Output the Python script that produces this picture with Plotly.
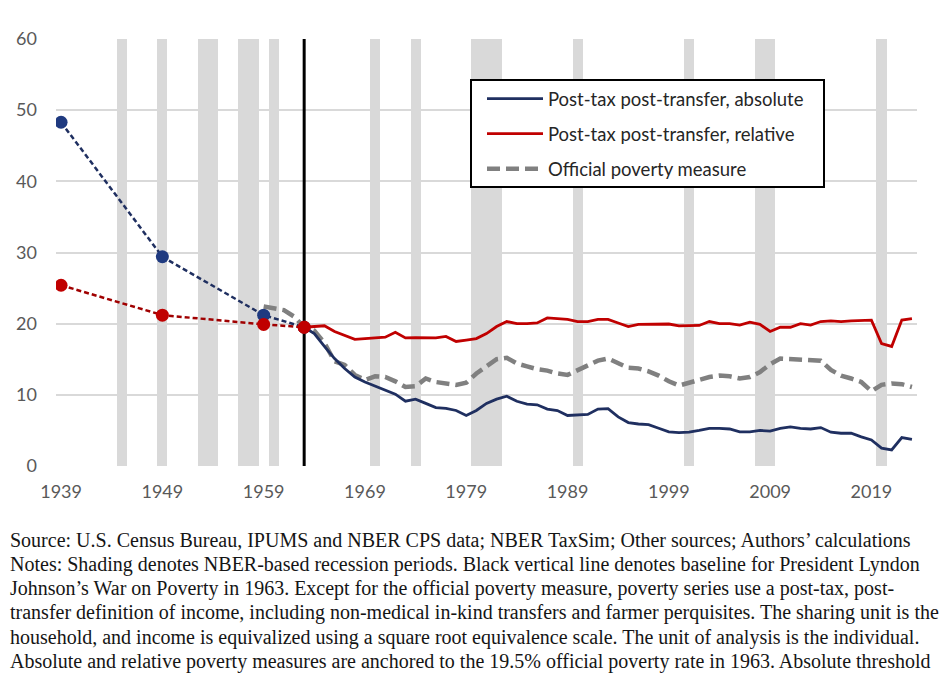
import plotly.graph_objects as go

# pre-1963 decennial points (dashed)
early_years = [1939, 1949, 1959, 1963]
early_absolute = [48.3, 29.4, 21.2, 19.5]
early_relative = [25.4, 21.2, 19.9, 19.5]

# annual series 1963-2023
years = list(range(1963, 2024))
absolute = [19.5, 18.6, 16.8, 15.1, 13.7, 12.5, 11.8, 11.2, 10.7, 10.1,
            9.1, 9.4, 8.8, 8.2, 8.1, 7.8, 7.1, 7.8, 8.8, 9.4,
            9.8, 9.1, 8.7, 8.6, 8.0, 7.8, 7.1, 7.2, 7.25, 8.0,
            8.05, 6.9, 6.1, 5.9, 5.8, 5.3, 4.8, 4.7, 4.75, 5.0,
            5.3, 5.3, 5.2, 4.8, 4.8, 5.0, 4.9, 5.3, 5.5, 5.3,
            5.2, 5.4, 4.75, 4.6, 4.6, 4.1, 3.65, 2.5, 2.25, 4.0, 3.75]
relative = [19.5, 19.6, 19.7, 18.9, 18.3, 17.8, 17.9, 18.0, 18.1, 18.8,
            18.0, 18.05, 18.0, 18.0, 18.2, 17.5, 17.7, 17.9, 18.6, 19.6,
            20.3, 20.0, 20.0, 20.1, 20.8, 20.7, 20.6, 20.3, 20.3, 20.6,
            20.6, 20.1, 19.6, 19.9, 19.95, 19.95, 19.95, 19.7, 19.7, 19.75,
            20.3, 20.0, 20.0, 19.8, 20.2, 19.9, 18.9, 19.5, 19.5, 20.0,
            19.8, 20.3, 20.4, 20.3, 20.4, 20.4, 20.5, 17.2, 16.8, 20.5, 20.7]

# official poverty measure 1959-2023
official_years = list(range(1959, 2024))
official = [22.4, 22.2, 21.9, 21.0, 19.5, 19.0, 17.3, 14.7, 14.2, 12.8,
            12.1, 12.6, 12.5, 11.9, 11.1, 11.2, 12.3, 11.8, 11.6, 11.4,
            11.7, 13.0, 14.0, 15.0, 15.2, 14.4, 14.0, 13.6, 13.4, 13.0,
            12.8, 13.5, 14.2, 14.8, 15.1, 14.5, 13.8, 13.7, 13.3, 12.7,
            11.9, 11.3, 11.7, 12.1, 12.5, 12.7, 12.6, 12.3, 12.5, 13.2,
            14.3, 15.1, 15.0, 15.0, 14.8, 14.8, 13.5, 12.7, 12.3, 11.8,
            10.5, 11.4, 11.6, 11.5, 11.1]

recession_years = [1945, 1949, 1953, 1954, 1957, 1958, 1960, 1970, 1974,
                   1980, 1981, 1982, 1990, 2001, 2008, 2009, 2020]
baseline_year = 1963

x_ticks = list(range(1939, 2020, 10))
y_ticks = [0, 10, 20, 30, 40, 50, 60]

notes = [
    "Source: U.S. Census Bureau, IPUMS and NBER CPS data; NBER TaxSim; Other sources; Authors\u2019 calculations",
    "Notes: Shading denotes NBER-based recession periods. Black vertical line denotes baseline for President Lyndon",
    "Johnson\u2019s War on Poverty in 1963. Except for the official poverty measure, poverty series use a post-tax, post-",
    "transfer definition of income, including non-medical in-kind transfers and farmer perquisites. The sharing unit is the",
    "household, and income is equivalized using a square root equivalence scale. The unit of analysis is the individual.",
    "Absolute and relative poverty measures are anchored to the 19.5% official poverty rate in 1963. Absolute threshold",
]

BLUE = "#1f2f60"
RED = "#c00000"
GRAY = "#808080"
SHADE = "#d9d9d9"

# page body adds an 8px offset, so the figure is sized to the remaining window
OFF = 8
W, H = 948 - OFF, 675 - OFF
ml, mr, mt, mb = 56 - OFF, 31, 39 - OFF, 209
pw, ph = W - ml - mr, H - mt - mb


def px_x(p):
    return (p - OFF - ml) / pw


def px_y(p):
    return (H - mb - (p - OFF)) / ph


fig = go.Figure()

fig.add_trace(go.Bar(x=recession_years, y=[max(y_ticks)] * len(recession_years), width=1,
                     marker=dict(color=SHADE, line=dict(width=0)),
                     showlegend=False, hoverinfo="skip"))

fig.add_trace(go.Scatter(x=[baseline_year, baseline_year], y=[min(y_ticks), max(y_ticks)],
                         mode="lines", line=dict(color="black", width=3),
                         showlegend=False, hoverinfo="skip"))

fig.add_trace(go.Scatter(x=early_years, y=early_absolute, mode="lines+markers",
                         line=dict(color=BLUE, width=2.5, dash="5px,3px"),
                         marker=dict(color="#1f3a80", size=13), showlegend=False))
fig.add_trace(go.Scatter(x=early_years, y=early_relative, mode="lines+markers",
                         line=dict(color="#a00000", width=2.5, dash="5px,3px"),
                         marker=dict(color=RED, size=13), showlegend=False))

fig.add_trace(go.Scatter(x=official_years, y=official, mode="lines",
                         name="Official poverty measure", legendrank=3, legendgroup="c",
                         line=dict(color=GRAY, width=4.5, dash="13px,6px")))
fig.add_trace(go.Scatter(x=years, y=absolute, mode="lines",
                         name="Post-tax post-transfer, absolute", legendrank=1, legendgroup="a",
                         line=dict(color=BLUE, width=2.8)))
fig.add_trace(go.Scatter(x=years, y=relative, mode="lines",
                         name="Post-tax post-transfer, relative", legendrank=2, legendgroup="b",
                         line=dict(color=RED, width=2.8)))

# red marker at 1963 on top
fig.add_trace(go.Scatter(x=early_years[-1:], y=early_relative[-1:], mode="markers",
                         marker=dict(color=RED, size=13), showlegend=False))

annotations = []
for i, txt in enumerate(notes):
    annotations.append(dict(text=txt, xref="paper", yref="paper",
                            x=px_x(8), y=px_y(540 + i * 24.3),
                            xanchor="left", yanchor="middle", showarrow=False,
                            font=dict(family="Liberation Serif", size=20, color="#151515")))

# legend frame (white box covering the shading, legend drawn on top)
legend_box = dict(type="rect", xref="paper", yref="paper", layer="above",
                  x0=px_x(471), x1=px_x(824), y0=px_y(187), y1=px_y(80),
                  fillcolor="white", line=dict(color="black", width=2))

fig.update_layout(
    width=W, height=H,
    margin=dict(l=ml, r=mr, t=mt, b=mb),
    paper_bgcolor="white", plot_bgcolor="white",
    barmode="overlay", bargap=0,
    font=dict(family="Lato", size=18, color="#595959"),
    legend=dict(x=px_x(482), y=px_y(80), xanchor="left", yanchor="top",
                bgcolor="rgba(0,0,0,0)", borderwidth=0,
                font=dict(family="Lato", size=18.5, color="#262626"),
                itemwidth=56, tracegroupgap=8, traceorder="grouped"),
    annotations=annotations,
    shapes=[legend_box],
)
fig.update_xaxes(range=[1938.5, 2023.5], tickvals=x_ticks, showgrid=False, zeroline=False,
                 showline=False, ticks="", ticklabelstandoff=13, automargin=False,
                 tickfont=dict(family="Lato", size=18, color="#595959"))
fig.update_yaxes(range=[0, 60], tickvals=y_ticks, showgrid=True, gridcolor=SHADE, gridwidth=1.5,
                 zeroline=False, showline=False, ticks="", ticklabelstandoff=18, automargin=False,
                 tickfont=dict(family="Lato", size=18, color="#595959"))

fig.write_html("out.html")
